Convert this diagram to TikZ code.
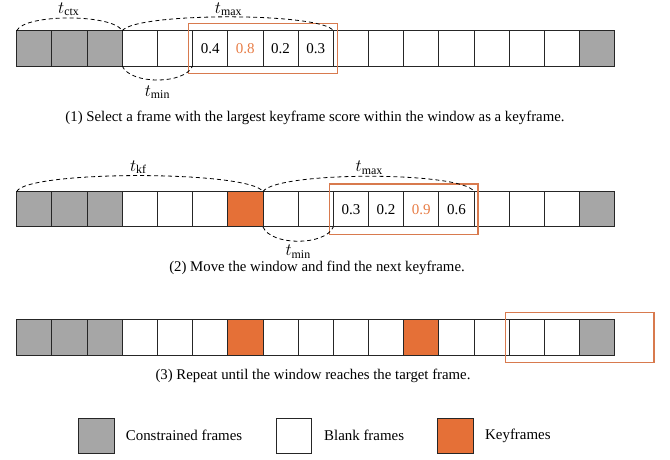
\documentclass[tikz,border=0pt]{standalone}
\usepackage{fontspec}
\setmainfont{Liberation Serif}
\usetikzlibrary{fit,calc}
\definecolor{cgray}{RGB}{166,166,166}
\definecolor{kforange}{RGB}{229,112,55}
\definecolor{winorange}{RGB}{216,122,78}
\definecolor{scoreorange}{RGB}{232,125,70}

\begin{document}
\begin{tikzpicture}[x=1pt,y=-1pt,
  frame/.style={draw=black!85, line width=0.9pt, minimum width=35.18pt, minimum height=35.3pt,
                inner sep=0pt, outer sep=0pt},
  constrained/.style={frame, fill=cgray},
  blank/.style={frame, fill=white},
  keyframe/.style={frame, fill=kforange},
  window/.style={draw=winorange, line width=1.3pt, inner xsep=4pt, inner ysep=7.5pt},
  span/.style={line width=0.8pt, dash pattern=on 4pt off 3pt},
  score/.style={font=\fontsize{15}{17}\selectfont, inner sep=0pt},
  hot/.style={score, text=scoreorange},
  tlabel/.style={font=\fontsize{17}{19}\selectfont, inner sep=0pt},
  caption/.style={font=\fontsize{14.8}{17}\selectfont, inner sep=0pt},
  legendtext/.style={font=\fontsize{14.9}{17}\selectfont, anchor=west, inner sep=0pt},
]
\useasboundingbox (0,0) rectangle (670,459);

% ---- row 1 ----
\foreach \t [count=\i] in {constrained,constrained,constrained,blank,blank,blank,blank,blank,blank,
                           blank,blank,blank,blank,blank,blank,blank,constrained}
  \node[\t] (r1c\i) at ({16.7+(\i-0.5)*35.18}, 48.35) {};
\node[window, fit=(r1c6)(r1c9)] (w1) {};
\node[score] at (r1c6) {0.4};
\node[hot] at (r1c7) {0.8};
\node[score] at (r1c8) {0.2};
\node[score] at (r1c9) {0.3};

\draw[span] (r1c1.north west) .. controls +(8,-17) and +(-10,-17) .. (r1c3.north east)
  node[midway, above=1.5pt, tlabel] {$t_{\mathrm{ctx}}$};
\draw[span] (r1c3.north east) .. controls +(14,-18.5) and +(-12,-18.5) .. (r1c9.north east)
  node[midway, above=0.6pt, tlabel] {$t_{\mathrm{max}}$};
\draw[span] (r1c3.south east) .. controls +(8,18.7) and +(-8,18.7) .. (r1c5.south east)
  node[midway, below=5pt, tlabel] {$t_{\mathrm{min}}$};

\node[caption] (cap1) at (315,118) {(1) Select a frame with the largest keyframe score within the window as a keyframe.};

% ---- row 2 ----
\foreach \t [count=\i] in {constrained,constrained,constrained,blank,blank,blank,keyframe,blank,blank,
                           blank,blank,blank,blank,blank,blank,blank,constrained}
  \node[\t] (r2c\i) at ({16.7+(\i-0.5)*35.18}, 209.2) {};
\node[window, fit=(r2c10)(r2c13)] (w2) {};
\node[score] at (r2c10) {0.3};
\node[score] at (r2c11) {0.2};
\node[hot] at (r2c12) {0.9};
\node[score] at (r2c13) {0.6};

\draw[span] (r2c1.north west) .. controls +(10,-21.3) and +(-14,-21.3) .. (r2c7.north east)
  node[midway, above=1.5pt, tlabel] {$t_{\mathrm{kf}}$};
\draw[span] (r2c7.north east) .. controls +(14,-20.4) and +(-12,-20.4) .. (r2c13.north east)
  node[midway, above=1.5pt, tlabel] {$t_{\mathrm{max}}$};
\draw[span] (r2c7.south east) .. controls +(8,19.2) and +(-8,19.2) .. (r2c9.south east)
  node[midway, below=3.5pt, tlabel] {$t_{\mathrm{min}}$};

\node[caption] (cap2) at (317,268) {(2) Move the window and find the next keyframe.};

% ---- row 3 ----
\foreach \t [count=\i] in {constrained,constrained,constrained,blank,blank,blank,keyframe,blank,blank,
                           blank,blank,keyframe,blank,blank,blank,blank,constrained}
  \node[\t] (r3c\i) at ({16.7+(\i-0.5)*35.18}, 337.5) {};
% the window runs one frame past the last one
\coordinate (r3end) at ($(r3c17.east)+(35.18,0)$);
\node[window, fit=(r3c15)(r3end)] (w3) {};

\node[caption] (cap3) at (313,376) {(3) Repeat until the window reaches the target frame.};

% ---- legend ----
\node[constrained, minimum width=36pt, minimum height=35pt] (lg1) at (96.3,435.8) {};
\node[legendtext] (lt1) at (125.7,435.7) {Constrained frames};
\node[blank, minimum width=35pt, minimum height=35pt] (lg2) at (294.2,435.8) {};
\node[legendtext] (lt2) at (324,435.7) {Blank frames};
\node[keyframe, minimum width=35.6pt, minimum height=35pt] (lg3) at (455.5,435.8) {};
\node[legendtext] (lt3) at (485,435.7) {Keyframes};
\end{tikzpicture}
\end{document}
